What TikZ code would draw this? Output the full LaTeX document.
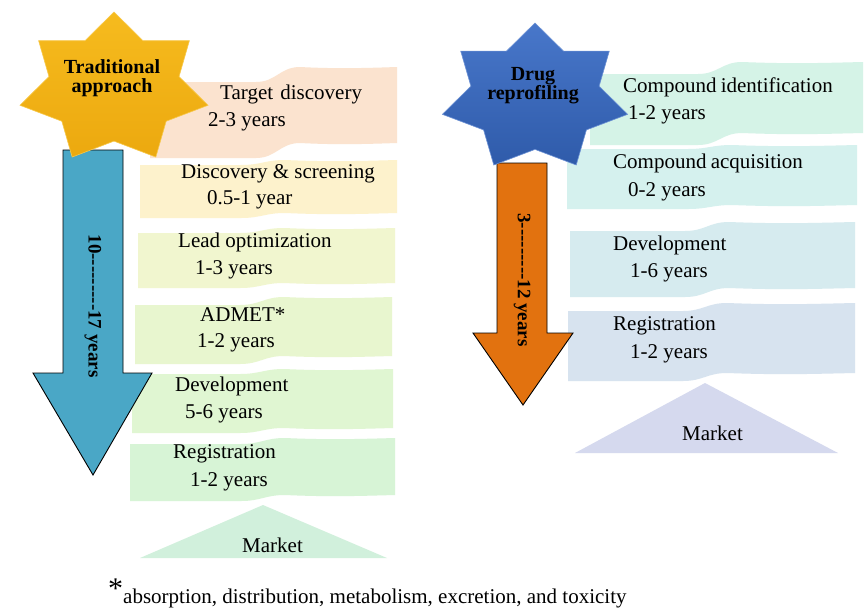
\documentclass[tikz,border=0pt]{standalone}
\usepackage{fontspec}
\setmainfont{Liberation Serif}
\definecolor{bTarget}{HTML}{FBE3CF}
\definecolor{bDisc}{HTML}{FDF2CC}
\definecolor{bLead}{HTML}{F1F6CF}
\definecolor{bAdmet}{HTML}{E8F6CF}
\definecolor{bDev}{HTML}{E0F6D2}
\definecolor{bReg}{HTML}{D7F4D6}
\definecolor{bMarketL}{HTML}{D1F0DC}
\definecolor{bCid}{HTML}{D5F3E7}
\definecolor{bCacq}{HTML}{D5F1EE}
\definecolor{bDevR}{HTML}{D6EBEF}
\definecolor{bRegR}{HTML}{D7E3EF}
\definecolor{bMarketR}{HTML}{D5D9EE}
\definecolor{teal}{HTML}{4AA7C6}
\definecolor{orng}{HTML}{E2720F}
\definecolor{starY}{HTML}{F6BB1E}
\definecolor{starYd}{HTML}{ECA90F}
\definecolor{starB}{HTML}{4877CA}
\definecolor{starBd}{HTML}{2F5BAA}
% banner: x0, x1, ytop, ybot, d, xm, color
\newcommand\wavebanner[7]{%
  \fill[#7] (#1,{#3+#5}) -- ({#6-22},{#3+#5})
    .. controls ({#6-2},{#3+#5}) and ({#6+2},#3) .. ({#6+22},#3)
    .. controls ({(#6+#2)/2},{#3+2}) and ({(#6+#2)/2+30},{#3+1}) .. (#2,#3)
    -- (#2,#4)
    .. controls ({(#6+#2)/2+30},{#4+1}) and ({(#6+#2)/2},{#4+2}) .. ({#6+22},#4)
    .. controls ({#6+2},#4) and ({#6-2},{#4+#5}) .. ({#6-22},{#4+#5})
    -- (#1,{#4+#5}) -- cycle;}
\newcommand\sevenstar[6]{% cx, cy, sx, sy, fill top, fill bottom
  \begin{scope}[shift={(#1,#2)}, xscale=#3, yscale=#4]
    \shade[top color=#5, bottom color=#6, draw=#5!80!white, line width=0.6pt]
      (-90:1) \foreach \k in {0,...,6} { -- ({-90+\k*360/7+180/7}:0.692) -- ({-90+(\k+1)*360/7}:1) } -- cycle;
  \end{scope}}
\begin{document}
\begin{tikzpicture}[x=1pt,y=-1pt,
  lbl/.style={anchor=west, inner sep=0pt, font=\fontsize{21}{24}\selectfont},
  starlbl/.style={align=center, inner sep=0pt, font=\fontsize{20}{19}\selectfont\bfseries},
  arrlbl/.style={rotate=-90, inner sep=0pt, font=\fontsize{19}{22}\selectfont\bfseries},
  arrowline/.style={draw=black, line width=0.9pt, line join=miter}]
\useasboundingbox (0,0) rectangle (865,614);
\fill[white] (0,0) rectangle (865,614);

% ---------- left banners ----------
\wavebanner{150}{397}{67}{143}{15}{278}{bTarget}
\wavebanner{140}{397}{160}{213}{5}{263}{bDisc}
\wavebanner{138}{395}{228}{283}{5}{262}{bLead}
\wavebanner{135}{392}{297}{356}{8}{262}{bAdmet}
\wavebanner{132}{393}{369}{428}{5}{262}{bDev}
\wavebanner{130}{395}{438}{495}{6}{263}{bReg}
\fill[bMarketL] (140,558) -- (263,505) -- (387,558) -- cycle;

% ---------- right banners ----------
\wavebanner{590}{863}{62}{133}{12}{720}{bCid}
\wavebanner{567}{857}{145}{205}{4}{710}{bCacq}
\wavebanner{570}{855}{222}{288}{9}{707}{bDevR}
\wavebanner{568}{855}{303}{373}{8}{705}{bRegR}
\fill[bMarketR] (575,453) -- (705,383) -- (838,453) -- cycle;

% ---------- arrows ----------
\path[arrowline, fill=teal] (63,150) -- (123,150) -- (123,373) -- (152,373) -- (93,475)
  -- (33,373) -- (63,373) -- cycle;
\path[arrowline, fill=orng] (497,163) -- (547,163) -- (547,333) -- (573,333) -- (523,405)
  -- (473,333) -- (497,333) -- cycle;
\node[arrlbl] (tradlen) at (93,306) {10-{}-{}-{}-{}-{}-{}-{}-{}-17 years};
\node[arrlbl] (reprolen) at (522,280) {3-{}-{}-{}-{}-{}-{}-{}-{}-12 years};

% ---------- stars ----------
\sevenstar{114}{88.3}{96.4}{76.3}{starY}{starYd}
\sevenstar{535}{97.7}{95}{74.7}{starB}{starBd}
\node[starlbl] (trad) at (112,78) {Traditional\\approach};
\node[starlbl] (drug) at (533,86) {Drug\\reprofiling};

% ---------- left texts ----------
\node[lbl] (t1a) at (220,94) {Target\hspace{2pt} discovery};
\node[lbl] (t1b) at (208,122) {2-3 years};
\node[lbl] (t2a) at (181,174) {Discovery \& screening};
\node[lbl] (t2b) at (207,200) {0.5-1 year};
\node[lbl] (t3a) at (178,242) {Lead optimization};
\node[lbl] (t3b) at (195,270) {1-3 years};
\node[lbl] (t4a) at (200,315) {ADMET*};
\node[lbl] (t4b) at (197,343) {1-2 years};
\node[lbl] (t5a) at (175,386) {Development};
\node[lbl] (t5b) at (185,414) {5-6 years};
\node[lbl] (t6a) at (173,454) {Registration};
\node[lbl] (t6b) at (190,482) {1-2 years};
\node[lbl] (t7) at (242,545) {Market};

% ---------- right texts ----------
\node[lbl] (r1a) at (623,87) {Compound\hspace{-1pt} identification};
\node[lbl] (r1b) at (628,115) {1-2 years};
\node[lbl] (r2a) at (613,163) {Compound\hspace{-1pt} acquisition};
\node[lbl] (r2b) at (628,192) {0-2 years};
\node[lbl] (r3a) at (613,245) {Development};
\node[lbl] (r3b) at (630,273) {1-6 years};
\node[lbl] (r4a) at (613,326) {Registration};
\node[lbl] (r4b) at (630,354) {1-2 years};
\node[lbl] (r5) at (682,433) {Market};

% ---------- footnote ----------
\node[anchor=base west, inner sep=0pt, font=\fontsize{21}{24}\selectfont] (foot) at (108,603)
  {\raisebox{5pt}{\fontsize{30}{30}\selectfont *}absorption, distribution, metabolism, excretion, and toxicity};
\end{tikzpicture}
\end{document}
